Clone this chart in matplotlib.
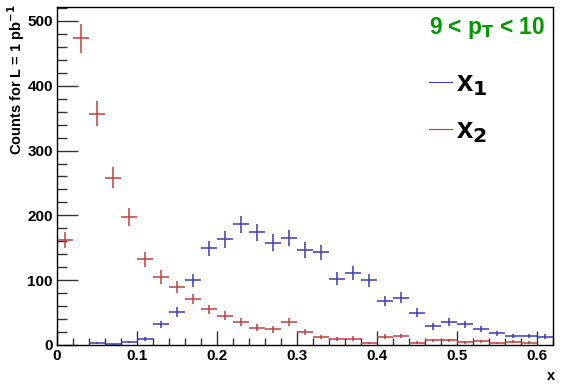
import numpy as np
import matplotlib
matplotlib.use("Agg")
import matplotlib.pyplot as plt
from matplotlib.ticker import MultipleLocator, FuncFormatter
from matplotlib.lines import Line2D

bin_centers = [0.01, 0.03, 0.05, 0.07, 0.09, 0.11, 0.13, 0.15, 0.17, 0.19,
               0.21, 0.23, 0.25, 0.27, 0.29, 0.31, 0.33, 0.35, 0.37, 0.39,
               0.41, 0.43, 0.45, 0.47, 0.49, 0.51, 0.53, 0.55, 0.57, 0.59, 0.61]
x1_counts = [0, 0, 2.5, 1, 4.6, 9.8, 32, 51, 100, 149,
             163, 186, 174, 158, 165, 147, 143, 102, 111, 100,
             68, 73, 50, 29, 36, 32, 25, 18, 14, 14, 13]
x2_counts = [162, 473, 357, 258, 197, 132, 105, 89, 71, 55,
             45, 36, 27, 24, 35, 19.5, 12, 9, 10, 3,
             13, 14, 3.6, 7, 7, 4, 6, 2.6, 5, 3.6, 0]
bin_half_width = 0.01

blue = "#3c3cb4"
red = "#c04040"

plt.rcParams['font.family'] = ['Liberation Sans', 'DejaVu Sans']
plt.rcParams['font.weight'] = 'bold'
plt.rcParams['mathtext.default'] = 'bf'

fig = plt.figure(figsize=(5.67, 3.84), dpi=100)
ax = fig.add_axes([57/567, 1 - 345/384, (553-57)/567, (345-7)/384])

def draw(counts, color):
    xs = np.array(bin_centers)
    ys = np.array(counts, dtype=float)
    m = ys > 0
    ax.errorbar(xs[m], ys[m], xerr=bin_half_width, yerr=np.sqrt(ys[m]),
                fmt='none', ecolor=color, elinewidth=1.1, capsize=0)

draw(x1_counts, blue)
draw(x2_counts, red)

ax.set_xlim(0, 0.62)
ax.set_ylim(0, 521.5)
ax.xaxis.set_major_locator(MultipleLocator(0.1))
ax.xaxis.set_minor_locator(MultipleLocator(0.02))
ax.yaxis.set_major_locator(MultipleLocator(100))
ax.yaxis.set_minor_locator(MultipleLocator(20))
ax.tick_params(which='both', direction='in', top=False, right=False, width=1, color='#333333')
ax.tick_params(axis='x', which='major', length=10, labelsize=11, pad=3)
ax.tick_params(axis='x', which='minor', length=5)
ax.tick_params(axis='y', which='major', length=15, labelsize=11, pad=3)
ax.tick_params(axis='y', which='minor', length=7.5)
for s in ax.spines.values():
    s.set_linewidth(1)
ax.xaxis.set_major_formatter(FuncFormatter(lambda v, p: "0" if abs(v) < 1e-9 else f"{v:.1f}"))
for lab in ax.get_xticklabels() + ax.get_yticklabels():
    lab.set_fontweight('bold')

fig.text(551/567, 1 - 376/384, "x", ha='center', va='center', fontsize=10.5, fontweight='bold')
fig.text(16/567, 1 - 4/384, "Counts for L = 1 pb$^{\\mathbf{-1}}$", rotation=90,
         ha='center', va='top', fontsize=10.5, fontweight='bold')

fig.text(429/567, 1 - 28/384, r"9 < p$_{\mathbf{T}}$ < 10", color='#009900',
         ha='left', va='center', fontsize=16.3, fontweight='bold')

for yy, col, lab in [(82, blue, "x$_{\\mathbf{1}}$"), (129, red, "x$_{\\mathbf{2}}$")]:
    fig.add_artist(Line2D([429/567, 452/567], [1 - yy/384, 1 - yy/384], color=col, lw=0.8))
    fig.text(456/567, 1 - (yy + 2)/384, lab, ha='left', va='center', fontsize=21, fontweight='bold')

fig.savefig("out.png", dpi=100)
